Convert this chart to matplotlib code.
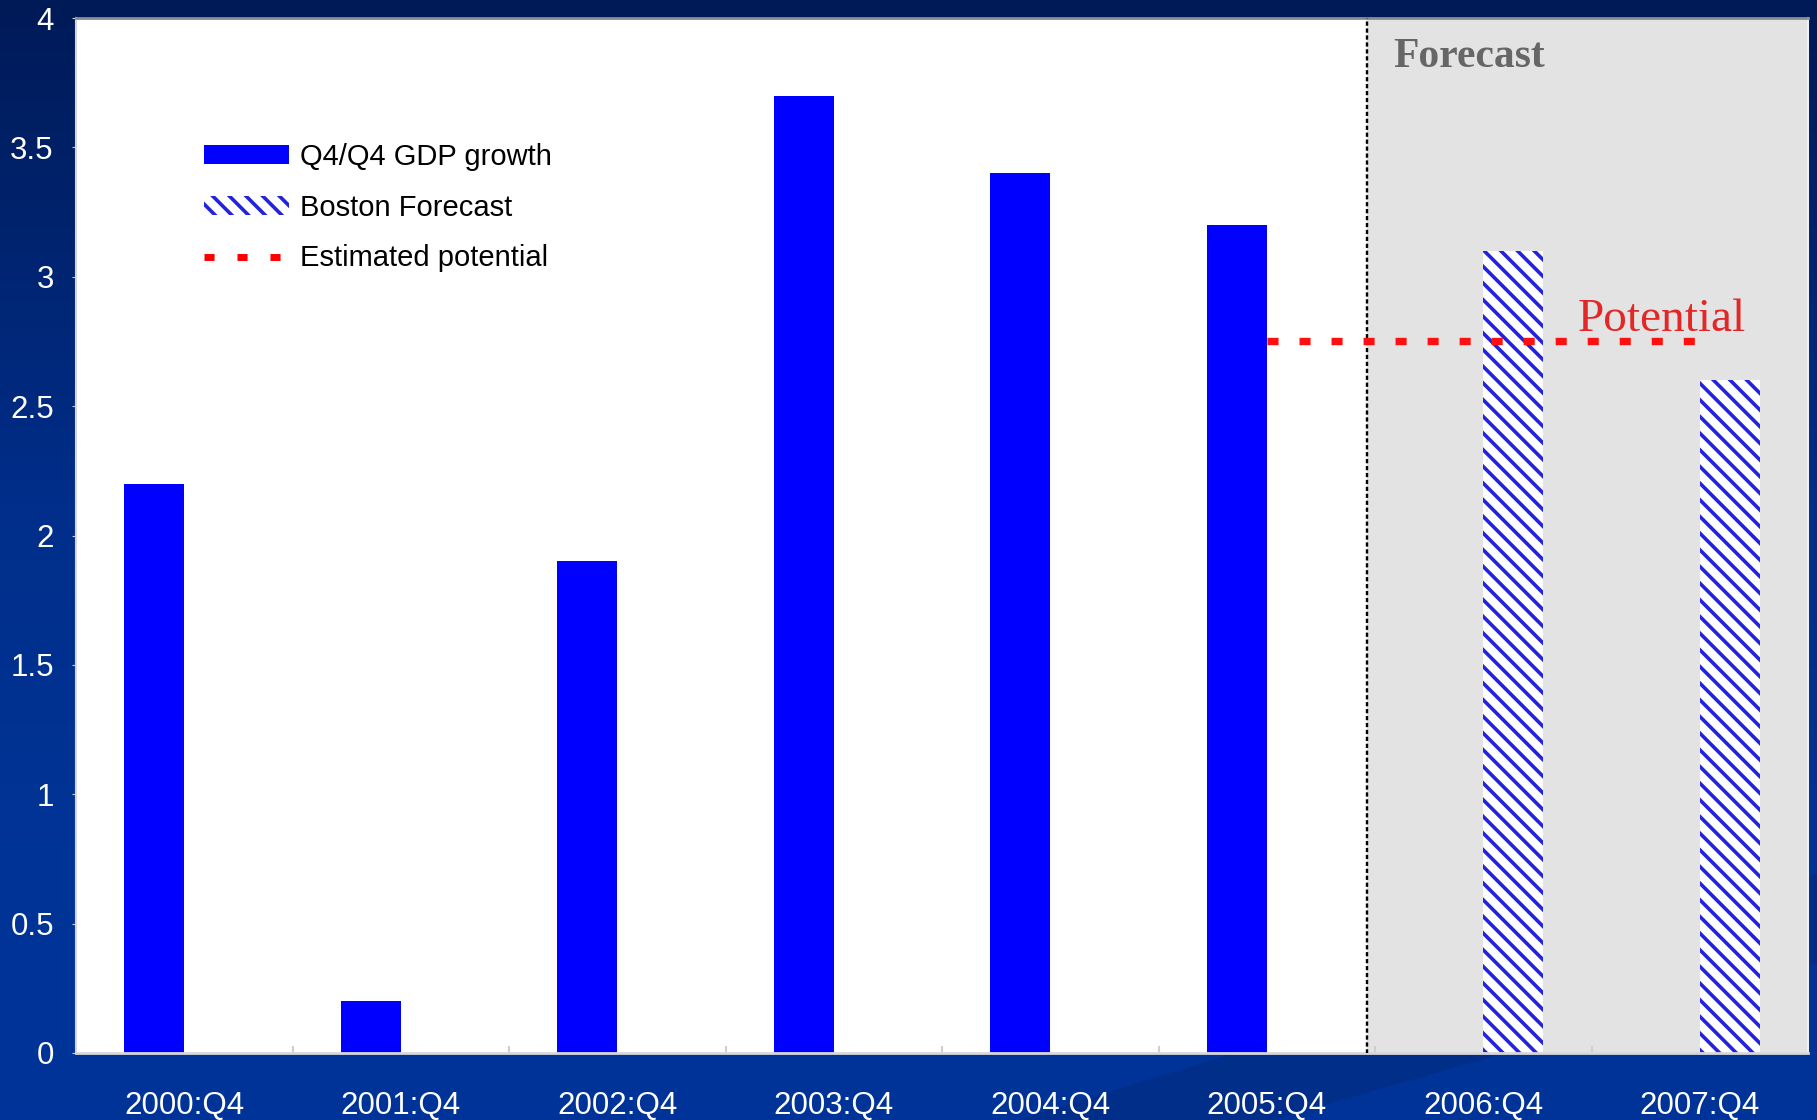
import numpy as np
import matplotlib
matplotlib.use("Agg")
import matplotlib.pyplot as plt
from matplotlib.patches import Patch, Polygon
from matplotlib.lines import Line2D
from matplotlib.colors import LinearSegmentedColormap

# ---- data ----
categories = ["2000:Q4", "2001:Q4", "2002:Q4", "2003:Q4", "2004:Q4", "2005:Q4", "2006:Q4", "2007:Q4"]
gdp_growth = [2.2, 0.2, 1.9, 3.7, 3.4, 3.2, None, None]
boston_forecast = [None, None, None, None, None, None, 3.1, 2.6]
potential_value = 2.75
potential_span = [5.0, 7.0]
forecast_start = 5.465
y_ticks = [0, 0.5, 1, 1.5, 2, 2.5, 3, 3.5, 4]
y_tick_labels = ["0", "0.5", "1", "1.5", "2", "2.5", "3", "3.5", "4"]

plt.rcParams['hatch.linewidth'] = 2.6

W, H = 1817, 1120
fig = plt.figure(figsize=(W / 100, H / 100), dpi=100)

# background gradient
bg = fig.add_axes([0, 0, 1, 1], zorder=-10)
cmap = LinearSegmentedColormap.from_list(
    "bg", [(0.0, "#001a57"), (0.45, "#002e8a"), (0.75, "#003496"), (1.0, "#003399")])
grad = np.linspace(0, 1, 256).reshape(-1, 1)
bg.imshow(grad, aspect="auto", cmap=cmap, extent=[0, 1, 0, 1], origin="upper")
# subtle diagonal band near the bottom
bg.add_patch(Polygon([[0.56, 0.0], [0.70, 0.0], [1.0, 0.14], [1.0, 0.22]],
                     closed=True, facecolor="#00256f", alpha=0.35, edgecolor="none"))
bg.set_xlim(0, 1)
bg.set_ylim(0, 1)
bg.axis("off")

left, right, top, bottom = 76, 1808, 18, 1053
ax = fig.add_axes([left / W, 1 - bottom / H, (right - left) / W, (bottom - top) / H])
ax.set_facecolor("white")

x = np.arange(len(categories))
bw = 0.278

ax.axvspan(forecast_start, len(categories) - 0.5, color="#e3e3e3", zorder=0, lw=0)

actual_x = [xi - bw / 2 for xi, v in zip(x, gdp_growth) if v is not None]
actual_v = [v for v in gdp_growth if v is not None]
fc_x = [xi + bw / 2 for xi, v in zip(x, boston_forecast) if v is not None]
fc_v = [v for v in boston_forecast if v is not None]

ax.bar(actual_x, actual_v, width=bw, color="#0000ff", zorder=2, lw=0)
ax.bar(fc_x, fc_v, width=bw, facecolor="white", edgecolor="#2323dd", hatch="\\\\",
       zorder=2, lw=0)

# forecast divider (double dashed line)
for dx in (-0.006, 0.0):
    ax.axvline(forecast_start + dx, color="black", lw=1.0, ls=(0, (3, 2)), zorder=3)

# potential line
ax.plot(potential_span, [potential_value, potential_value], color="#ff1010", lw=5.3,
        dashes=(1.5, 2.85), solid_capstyle="butt", dash_capstyle="butt", zorder=4)

ax.text(6.438, 2.79, "Potential", color="#e32626", fontsize=34,
        family="Liberation Serif", va="baseline", ha="left", zorder=5)
ax.text(5.583, 3.81, "Forecast", color="#666666", fontsize=30, fontweight="bold",
        family="Liberation Serif", va="baseline", ha="left", zorder=5)

ax.set_xlim(-0.5, len(categories) - 0.5)
ax.set_ylim(0, 4)
ax.set_xticks(x)
ax.set_xticklabels(categories)
ax.set_yticks(y_ticks)
ax.set_yticklabels(y_tick_labels)
ax.set_xticks(np.arange(0.5, len(categories) - 0.5, 1), minor=True)
ax.tick_params(axis="x", which="major", length=0, pad=27, labelsize=22.5, labelcolor="white")
ax.tick_params(axis="x", which="minor", length=5, direction="in", color="#cfcfcf", width=1.5)
ax.tick_params(axis="y", which="major", length=3, pad=13, labelsize=22.5, labelcolor="white",
               color="#cfcfcf")
for lab in ax.get_xticklabels() + ax.get_yticklabels():
    lab.set_family("Liberation Sans")

ax.spines["left"].set_color("#d6d6d6")
ax.spines["left"].set_linewidth(1.5)
ax.spines["top"].set_color("#8c8c8c")
ax.spines["top"].set_linewidth(2)
ax.spines["right"].set_color("#f0f0f0")
ax.spines["right"].set_linewidth(1.5)
ax.spines["bottom"].set_color("#d8d8d8")
ax.spines["bottom"].set_linewidth(2)

handles = [
    Patch(facecolor="#0000ff", edgecolor="none", label="Q4/Q4 GDP growth"),
    Patch(facecolor="white", edgecolor="#2323dd", hatch="\\\\", lw=0, label="Boston Forecast"),
    Line2D([0], [0], color="#ff0000", lw=5, dashes=(1.45, 3.3), dash_capstyle="butt",
           label="Estimated potential"),
]
leg = ax.legend(handles=handles, loc="upper left", bbox_to_anchor=(204 / W, 1 - 143 / H),
                bbox_transform=fig.transFigure, frameon=False, borderpad=0, borderaxespad=0,
                handlelength=2.9, handleheight=0.6, handletextpad=0.38, labelspacing=0.78,
                prop={"family": "Liberation Sans", "size": 21})

fig.savefig("out.png", dpi=100)
